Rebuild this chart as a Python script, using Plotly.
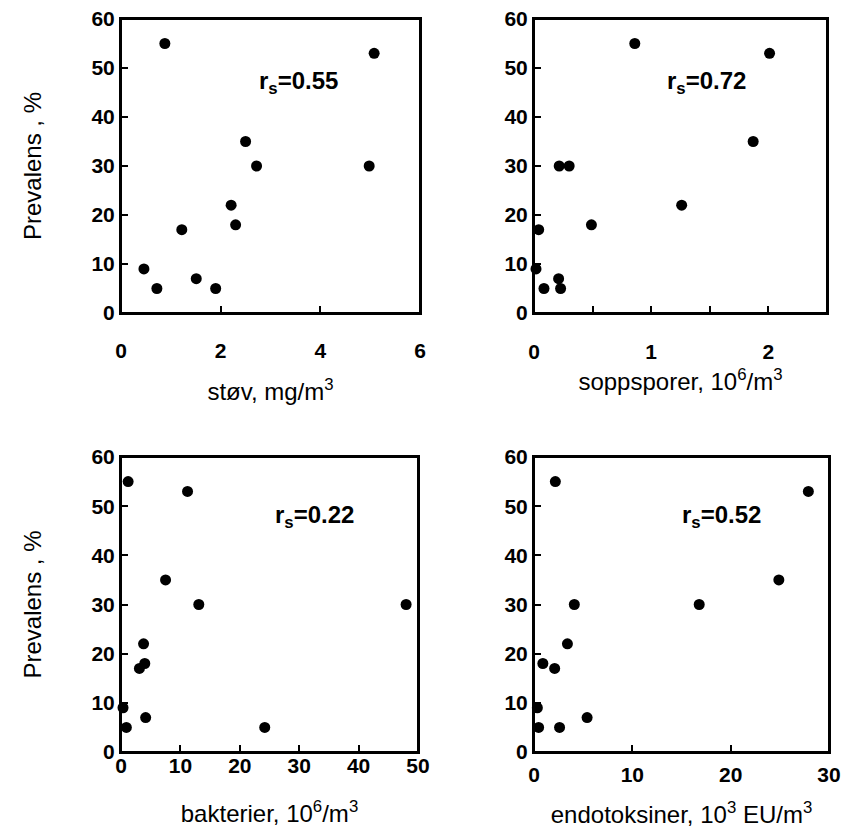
import plotly.graph_objects as go

stov_x = [0.88, 5.08, 2.50, 2.72, 4.98, 2.21, 2.30, 1.22, 0.46, 0.72, 1.51, 1.90]
stov_y = [55, 53, 35, 30, 30, 22, 18, 17, 9, 5, 7, 5]

sopp_x = [0.86, 2.01, 1.87, 0.215, 0.30, 1.26, 0.49, 0.04, 0.017, 0.085, 0.21, 0.227]
sopp_y = [55, 53, 35, 30, 30, 22, 18, 17, 9, 5, 7, 5]

bakt_x = [1.2, 11.2, 7.5, 13.1, 48.0, 3.8, 4.0, 3.1, 0.34, 0.9, 4.15, 24.2]
bakt_y = [55, 53, 35, 30, 30, 22, 18, 17, 9, 5, 7, 5]

endo_x = [2.17, 27.9, 24.9, 16.8, 4.1, 3.4, 0.9, 2.1, 0.34, 0.47, 2.6, 5.4]
endo_y = [55, 53, 35, 30, 30, 22, 18, 17, 9, 5, 5, 7]

rs_labels = ["r<sub>s</sub>=0.55", "r<sub>s</sub>=0.72", "r<sub>s</sub>=0.22", "r<sub>s</sub>=0.52"]
x_titles = ["støv, mg/m<sup>3</sup>", "soppsporer, 10<sup>6</sup>/m<sup>3</sup>",
            "bakterier, 10<sup>6</sup>/m<sup>3</sup>",
            "endotoksiner, 10<sup>3</sup> EU/m<sup>3</sup>"]
y_title = "Prevalens , %"

y_ticks = [0, 10, 20, 30, 40, 50, 60]
xtickvals = [[0, 2, 4, 6], [0, 0.5, 1, 1.5, 2, 2.5], [0, 10, 20, 30, 40, 50], [0, 10, 20, 30]]
xticktext = [["0", "2", "4", "6"], ["0", "", "1", "", "2", ""],
             ["0", "10", "20", "30", "40", "50"], ["0", "10", "20", "30"]]
xranges = [[0, 6], [0, 2.5], [0, 50], [0, 30]]

FONT = "Liberation Sans, Arial, sans-serif"
PAGE_W, PAGE_H = 849, 836
BODY = 8  # default page body margin
W, H = PAGE_W - 2 * BODY, PAGE_H - 2 * BODY
TICK_SIZE = 21
TITLE_SIZE = 24
RS_SIZE = 24

fig = go.Figure()
data = [(stov_x, stov_y), (sopp_x, sopp_y), (bakt_x, bakt_y), (endo_x, endo_y)]
for i, (xs, ys) in enumerate(data):
    sfx = "" if i == 0 else str(i + 1)
    fig.add_trace(go.Scatter(x=xs, y=ys, mode="markers", xaxis="x" + sfx, yaxis="y" + sfx,
                             marker=dict(color="black", size=11), showlegend=False,
                             cliponaxis=False))

# box pixel positions on the page (left, right, top, bottom)
boxes = [
    (121, 420, 19, 313),
    (534, 827, 19, 313),
    (121, 418, 457, 752),
    (534, 829, 457, 752),
]
xstandoff = [18, 19, -6, 3]
title_std = [22, 11, 29, 29]

layout = dict(width=W, height=H, margin=dict(l=0, r=0, t=0, b=0, autoexpand=False),
              paper_bgcolor="white", plot_bgcolor="white",
              font=dict(family=FONT, color="black", size=TICK_SIZE))

annotations = []
shapes = []
for i, (x0, x1, y0, y1) in enumerate(boxes):
    sfx = "" if i == 0 else str(i + 1)
    xd = [(x0 - BODY) / W, (x1 - BODY) / W]
    yd = [1 - (y1 - BODY) / H, 1 - (y0 - BODY) / H]
    ax_common = dict(showline=True, linecolor="black", linewidth=2, mirror=True,
                     showgrid=False, zeroline=False, ticks="inside", ticklen=7,
                     tickwidth=2, tickcolor="black", automargin=False,
                     ticklabeloverflow="allow",
                     tickfont=dict(size=TICK_SIZE, family=FONT, color="black"))
    layout["xaxis" + sfx] = dict(domain=xd, anchor="y" + sfx, range=xranges[i],
                                 tickmode="array", tickvals=xtickvals[i],
                                 ticktext=["<b>%s</b>" % t if t else "" for t in xticktext[i]],
                                 ticklabelstandoff=xstandoff[i],
                                 title=dict(text=x_titles[i],
                                            font=dict(size=TITLE_SIZE, family=FONT, color="black"),
                                            standoff=title_std[i]),
                                 **ax_common)
    yax = dict(domain=yd, anchor="x" + sfx, range=[0, 60], tickmode="array",
               tickvals=y_ticks, ticktext=["<b>%d</b>" % v for v in y_ticks],
               ticklabelstandoff=0, **ax_common)
    if i in (0, 2):
        yax["title"] = dict(text=y_title, font=dict(size=TITLE_SIZE, family=FONT, color="black"),
                            standoff=43)
    layout["yaxis" + sfx] = yax
    shapes.append(dict(type="rect", xref="x" + sfx + " domain", yref="y" + sfx + " domain",
                       x0=0, x1=1, y0=0, y1=1, line=dict(color="black", width=2),
                       fillcolor="rgba(0,0,0,0)", layer="above"))

rs_pos = [(2.73, 47.0), (1.12, 47.0), (25.6, 48.0), (14.85, 48.0)]
for i, (ax, ay) in enumerate(rs_pos):
    sfx = "" if i == 0 else str(i + 1)
    annotations.append(dict(x=ax, y=ay, xref="x" + sfx, yref="y" + sfx,
                            text="<b>" + rs_labels[i] + "</b>",
                            showarrow=False, xanchor="left", yanchor="middle",
                            font=dict(size=RS_SIZE, family=FONT, color="black")))
layout["annotations"] = annotations
layout["shapes"] = shapes

fig.update_layout(**layout)
fig.write_html("out.html")
